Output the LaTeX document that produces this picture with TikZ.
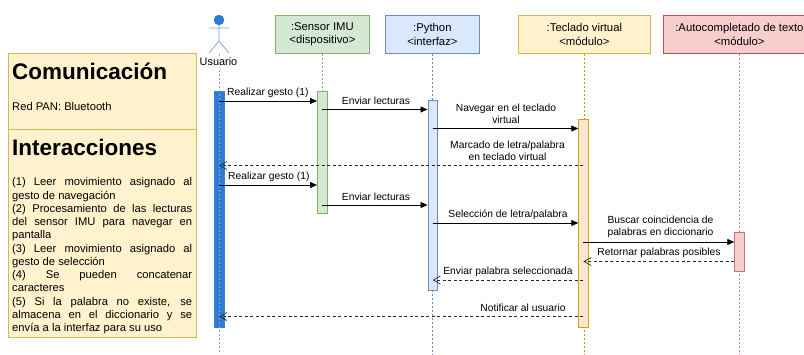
\documentclass[tikz,border=0pt]{standalone}
\usepackage{fontspec}
\setmainfont{Liberation Sans}
\usetikzlibrary{arrows.meta}
\definecolor{gf}{HTML}{D5E8D4}\definecolor{gd}{HTML}{82B366}
\definecolor{bf}{HTML}{DAE8FC}\definecolor{bd}{HTML}{6C8EBF}
\definecolor{yf}{HTML}{FFF2CC}\definecolor{yd}{HTML}{D6B656}
\definecolor{rf}{HTML}{F8CECC}\definecolor{rd}{HTML}{B85450}
\definecolor{of}{HTML}{FFE6CC}\definecolor{od}{HTML}{D79B00}
\definecolor{ub}{HTML}{2D7BD3}\definecolor{ul}{HTML}{7EA6E0}
\tikzset{
  head/.style={draw=#1,line width=0.8pt,inner sep=0pt,minimum height=38pt,anchor=north west,align=center,font=\fontsize{11.3}{13.2}\selectfont},
  bar/.style={line width=0.8pt,inner sep=0pt,minimum width=9.5pt,anchor=north west},
  life/.style={draw=#1,line width=0.8pt,dash pattern=on 2pt off 2pt},
  msg/.style={draw=black,line width=0.8pt,-{Triangle[length=7pt,width=6pt]}},
  ret/.style={draw=black!85,line width=0.7pt,dash pattern=on 3pt off 2.5pt,-{Straight Barb[length=7pt,width=8pt]}},
  lab/.style={inner sep=0pt,align=center,font=\fontsize{10.3}{12.3}\selectfont},
  sect/.style={draw=yd,fill=yf,line width=0.8pt,inner sep=0pt,anchor=north west,minimum width=188.5pt},
  ttl/.style={inner sep=0pt,anchor=west,font=\bfseries\fontsize{22.5}{26}\selectfont},
  body/.style={inner sep=0pt,anchor=north west,text width=180pt,align=justify,font=\fontsize{11.2}{13.25}\selectfont}
}
\begin{document}
\begin{tikzpicture}[x=1pt,y=-1pt]
\useasboundingbox (0,0) rectangle (804,354);
\clip (0,0) rectangle (804,354);
\fill[white] (0,0) rectangle (804,354);
% head boxes
\node[head=gd,fill=gf,minimum width=94pt] (sensor) at (275,15) {:Sensor IMU\\<dispositivo>};
\node[head=bd,fill=bf,minimum width=94pt] (python) at (385,15) {:Python\\<interfaz>};
\node[head=yd,fill=yf,minimum width=132pt] (teclado) at (518,15) {:Teclado virtual\\<módulo>};
\node[head=rd,fill=rf,minimum width=152pt] (auto) at (663,15) {:Autocompletado de texto\\<módulo>};
% lifeline ends
\coordinate (endU) at (219,354);
\coordinate (topU) at (219,54);
% lifelines
\draw[life=gd] (sensor.south) -- (sensor.south |- 0,91);
\draw[life=bd] (python.south) -- (python.south |- endU);
\draw[life=od] (teclado.south) -- (teclado.south |- endU);
\draw[life=rd!70] (auto.south) -- (auto.south |- endU);
% activations
\node[bar,draw=ub!75!bd,fill=ub,minimum height=236pt] (barU) at (214.2,91) {};
\node[bar,draw=gd,fill=gf,minimum height=122pt] (barS) at (317,91) {};
\node[bar,draw=bd,fill=bf,minimum height=190pt] (barP) at (427.5,100) {};
\node[bar,draw=od!80!yd,fill=of,minimum height=208pt] (barT) at (578.3,119) {};
\node[bar,draw=rd!80,fill=rf,minimum height=39pt] (barA) at (734.3,232) {};
% actor
\node[circle,draw=ub,fill=ub,inner sep=0pt,minimum size=10pt] (ahead) at (219,20) {};
\coordinate (aneck) at (219,41);
\coordinate (arml) at (209,28);\coordinate (armr) at (229,28);
\coordinate (legl) at (209,53);\coordinate (legr) at (229,53);
\draw[ul,line width=0.8pt] (ahead.south) -- (aneck) (arml) -- (armr) (legl) -- (aneck) -- (legr);
\draw[life=ul] (topU) -- (endU);
\node[inner sep=1pt,fill=white,font=\fontsize{10.9}{12}\selectfont] (ulabel) at (218.5,62) {Usuario};
% message levels
\coordinate (y1) at (0,101);\coordinate (y2) at (0,109.5);\coordinate (y3) at (0,128.5);
\coordinate (y4) at (0,165.5);\coordinate (y5) at (0,185);\coordinate (y6) at (0,205);
\coordinate (y7) at (0,223);\coordinate (y8) at (0,242);\coordinate (y9) at (0,261.5);
\coordinate (y10) at (0,280);\coordinate (y11) at (0,316.5);
% messages
\draw[msg] (ahead |- y1) -- (barS.west |- y1);
\draw[msg] (barS.center |- y2) -- (barP.west |- y2);
\draw[msg] (barP.center |- y3) -- (barT.west |- y3);
\draw[ret] (barT.center |- y4) -- (ahead |- y4);
\draw[msg] (ahead |- y5) -- (barS.west |- y5);
\draw[msg] (barS.center |- y6) -- (barP.west |- y6);
\draw[msg] (barP.center |- y7) -- (barT.west |- y7);
\draw[msg] (barT.center |- y8) -- (barA.west |- y8);
\draw[ret] (barA.west |- y9) -- (barT.center |- y9);
\draw[ret] (barT.center |- y10) -- (barP.center |- y10);
\draw[ret] (barT.center |- y11) -- (ahead |- y11);
% labels
\node[lab,anchor=west] (l1) at (227,92.5) {Realizar gesto (1)};
\node[lab] (l2) at (376,101) {Enviar lecturas};
\node[lab] (l3) at (506,114) {Navegar en el teclado\\virtual};
\node[lab] (l4) at (507.5,151) {Marcado de letra/palabra\\en teclado virtual};
\node[lab,anchor=west] (l5) at (228,176.5) {Realizar gesto (1)};
\node[lab] (l6) at (376,197) {Enviar lecturas};
\node[lab] (l7) at (508,214.5) {Selección de letra/palabra};
\node[lab] (l8) at (660.5,227) {Buscar coincidencia de\\palabras en diccionario};
\node[lab] (l9) at (659,253) {Retornar palabras posibles};
\node[lab] (l10) at (508,271.5) {Enviar palabra seleccionada};
\node[lab] (l11) at (523,308) {Notificar al usuario};
% left panel
\node[sect,minimum height=75.5pt] (comm) at (7.5,53) {};
\node[sect,minimum height=208pt] (inter) at (7.5,128.5) {};
\node[ttl] (t1) at (12,71) {Comunicación};
\node[inner sep=0pt,anchor=west,font=\fontsize{11.2}{12}\selectfont] (t2) at (12,106.5) {Red PAN: Bluetooth};
\node[ttl] (t3) at (12,147) {Interacciones};
\node[body] (t4) at (12,177.5) {\hyphenpenalty=10000 \tolerance=9999 \hbadness=10000
(1) Leer movimiento asignado al\linebreak gesto de navegación\par
(2) Procesamiento de las lecturas\linebreak del sensor IMU para navegar en\linebreak pantalla\par
(3) Leer movimiento asignado al\linebreak gesto de selección\par
(4) Se pueden concatenar\linebreak caracteres\par
(5) Si la palabra no existe, se\linebreak almacena en el diccionario y se\linebreak envía a la interfaz para su uso};
\end{tikzpicture}
\end{document}
